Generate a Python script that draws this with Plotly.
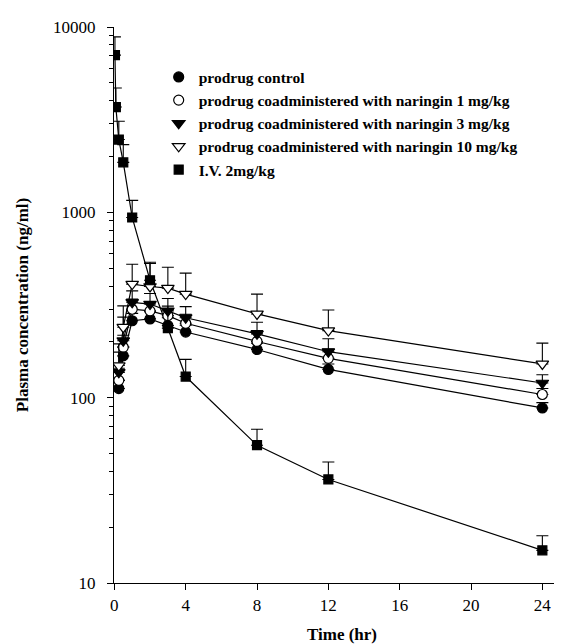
import plotly.graph_objects as go

# ---- data ----
time_oral = [0.25, 0.5, 1, 2, 3, 4, 8, 12, 24]
control = [112, 168, 260, 266, 245, 226, 182, 142, 88]
control_sd = [12, 20, 25, 25, 25, 20, 15, 10, 6]
nar1 = [124, 187, 300, 294, 277, 252, 201, 163, 104]
nar1_sd = [20, 30, 40, 35, 35, 30, 29, 20, 8]
nar3 = [137, 203, 327, 320, 294, 270, 221, 177, 120]
nar3_sd = [39, 69, 50, 45, 49, 40, 34, 31, 13]
nar10 = [149, 240, 410, 398, 390, 362, 283, 230, 152]
nar10_sd = [46, 73, 115, 140, 115, 108, 79, 67, 45]

time_iv = [0.033, 0.083, 0.25, 0.5, 1, 2, 3, 4, 8, 12, 24]
iv = [7050, 3700, 2470, 1860, 938, 430, 237, 130, 55.4, 36.2, 15.0]
iv_sd = [1800, 990, 630, 460, 222, 100, 63, 31, 12.2, 8.8, 3.0]

names = ["prodrug control",
         "prodrug coadministered with naringin 1 mg/kg",
         "prodrug coadministered with naringin 3 mg/kg",
         "prodrug coadministered with naringin 10 mg/kg",
         "I.V. 2mg/kg"]

x_ticks = [0, 4, 8, 12, 16, 20, 24]
y_ticks = [10, 100, 1000, 10000]
y_ticktext = ["10", "100", "1000", "10000"]

FONT = "Liberation Serif"

series = [
    (time_oral, control, control_sd, names[0], "circle", "black", 10),
    (time_oral, nar1, nar1_sd, names[1], "circle", "white", 10),
    (time_oral, nar3, nar3_sd, names[2], "triangle-down", "black", 11),
    (time_oral, nar10, nar10_sd, names[3], "triangle-down", "white", 11),
    (time_iv, iv, iv_sd, names[4], "square", "black", 9),
]

fig = go.Figure()

# connecting lines
for t, v, sd, name, sym, fill, size in series:
    fig.add_trace(go.Scatter(x=t, y=v, mode="lines", showlegend=False,
                             line=dict(color="black", width=1.2),
                             hoverinfo="skip"))

# markers with upper error bars
for t, v, sd, name, sym, fill, size in series:
    fig.add_trace(go.Scatter(
        x=t, y=v, mode="markers", name=name,
        marker=dict(symbol=sym, size=size, color=fill,
                    line=dict(color="black", width=1.2)),
        error_y=dict(type="data", array=sd, arrayminus=[0] * len(sd),
                     symmetric=False, color="black", thickness=1.1, width=6),
    ))

minor_vals = []
for d in [10, 100, 1000]:
    for k in range(2, 10):
        minor_vals.append(d * k)

fig.update_layout(
    width=562, height=644,
    margin=dict(l=106, r=0, t=19, b=69),
    paper_bgcolor="white", plot_bgcolor="white",
    font=dict(family=FONT, color="black", size=17),
    showlegend=True,
    legend=dict(x=0.098, y=0.94, xanchor="left", yanchor="top",
                bgcolor="rgba(0,0,0,0)", borderwidth=0,
                font=dict(family=FONT, size=15.5, color="black", weight="bold"),
                itemwidth=30, tracegroupgap=0),
    xaxis=dict(range=[-0.02, 25.55], tickvals=x_ticks,
               ticks="outside", ticklen=6, tickwidth=1, tickcolor="black",
               showline=True, linecolor="black", linewidth=1.2,
               showgrid=False, zeroline=False,
               tickfont=dict(family=FONT, size=17),
               title=dict(text="Time (hr)", standoff=14,
                          font=dict(family=FONT, size=17, weight="bold"))),
    yaxis=dict(type="log", range=[1, 4], tickvals=y_ticks, ticktext=y_ticktext,
               ticks="outside", ticklen=6, tickwidth=1, tickcolor="black",
               minor=dict(tickvals=minor_vals, ticks="outside", ticklen=4,
                          tickwidth=1, tickcolor="black"),
               showline=True, linecolor="black", linewidth=1.2,
               showgrid=False, zeroline=False,
               ticklabelstandoff=8,
               tickfont=dict(family=FONT, size=17),
               title=dict(text="Plasma concentration (ng/ml)", standoff=20,
                          font=dict(family=FONT, size=17, weight="bold"))),
)

fig.write_html("out.html")
